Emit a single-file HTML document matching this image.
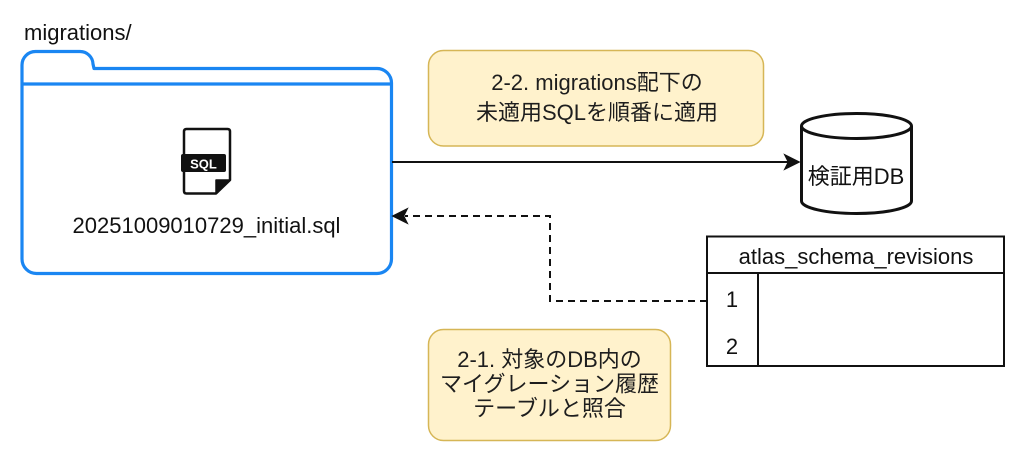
<!DOCTYPE html>
<html>
<head>
<meta charset="utf-8">
<style>
  html,body{margin:0;padding:0;background:#fff;}
  body{width:1024px;height:460px;overflow:hidden;}
  svg{display:block;}
  text{font-family:"Liberation Sans","Noto Sans CJK JP",sans-serif;}
</style>
</head>
<body>
<svg width="1024" height="460" viewBox="0 0 1024 460" xmlns="http://www.w3.org/2000/svg">
  <rect x="0" y="0" width="1024" height="460" fill="#ffffff"/>

  <!-- folder label -->
  <text x="24" y="40" font-size="22" fill="#111">migrations/</text>

  <!-- folder -->
  <path d="M22 65 A13.5 13.5 0 0 1 35.5 51.5 H80 A13 13 0 0 1 93 64 L94 68.5 H377 A14.5 14.5 0 0 1 391.5 83 V259 A14.5 14.5 0 0 1 377 273.5 H36.5 A14.5 14.5 0 0 1 22 259 Z"
        fill="#ffffff" stroke="#1a86f2" stroke-width="3.2" stroke-linejoin="round"/>
  <line x1="22" y1="84" x2="391.5" y2="84" stroke="#1a86f2" stroke-width="3.2"/>

  <!-- SQL file icon -->
  <path d="M186.5 129 H227.5 Q230 129 230 131.5 V180 L216 193.5 H186.5 Q184 193.5 184 191 V131.5 Q184 129 186.5 129 Z"
        fill="#ffffff" stroke="#111" stroke-width="2.5" stroke-linejoin="round"/>
  <path d="M216 180 H230 L216 193.5 Z" fill="#111" stroke="#111" stroke-width="1.5" stroke-linejoin="round"/>
  <rect x="181" y="154" width="45" height="18" rx="2" fill="#111"/>
  <text x="203.5" y="168.5" font-size="13" font-weight="bold" fill="#ffffff" text-anchor="middle">SQL</text>

  <text x="206.5" y="233" font-size="22" fill="#111" text-anchor="middle">20251009010729_initial.sql</text>

  <!-- top note -->
  <rect x="428.5" y="50.5" width="335" height="95.5" rx="15" ry="15" fill="#fff2cc" stroke="#d6b656" stroke-width="1.5"/>
  <text x="597" y="90" font-size="22" fill="#1e1e1e" text-anchor="middle">2-2. migrations配下の</text>
  <text x="597" y="120" font-size="22" fill="#1e1e1e" text-anchor="middle">未適用SQLを順番に適用</text>

  <!-- solid arrow -->
  <line x1="392" y1="162" x2="790" y2="162" stroke="#111" stroke-width="2"/>
  <path d="M799 162 L785 155 L788.5 162 L785 169 Z" fill="#111" stroke="#111" stroke-width="1.5" stroke-linejoin="miter"/>

  <!-- cylinder -->
  <path d="M801.5 126 V201 A55 12.5 0 0 0 911.5 201 V126"
        fill="#ffffff" stroke="#111" stroke-width="3"/>
  <ellipse cx="856.5" cy="126" rx="55" ry="12.5" fill="#ffffff" stroke="#111" stroke-width="3"/>
  <text x="856" y="184" font-size="22" fill="#111" text-anchor="middle">検証用DB</text>

  <!-- dashed connector -->
  <path d="M707 301 H550 V216 H405" fill="none" stroke="#111" stroke-width="2" stroke-dasharray="7 5"/>
  <path d="M393 216 L407 209 L403.5 216 L407 223 Z" fill="#111" stroke="#111" stroke-width="1.5"/>

  <!-- table -->
  <rect x="707" y="236.5" width="297" height="129.5" fill="#ffffff" stroke="#111" stroke-width="2"/>
  <line x1="707" y1="273" x2="1004" y2="273" stroke="#111" stroke-width="2"/>
  <line x1="758" y1="273" x2="758" y2="366" stroke="#111" stroke-width="2"/>
  <text x="856" y="264" font-size="22" fill="#111" text-anchor="middle">atlas_schema_revisions</text>
  <text x="732" y="307" font-size="22" fill="#111" text-anchor="middle">1</text>
  <text x="732" y="354" font-size="22" fill="#111" text-anchor="middle">2</text>

  <!-- bottom note -->
  <rect x="428.5" y="329.5" width="242" height="111" rx="15" ry="15" fill="#fff2cc" stroke="#d6b656" stroke-width="1.5"/>
  <text x="549.5" y="367" font-size="22" fill="#1e1e1e" text-anchor="middle">2-1. 対象のDB内の</text>
  <text x="549.5" y="391.5" font-size="22" fill="#1e1e1e" text-anchor="middle">マイグレーション履歴</text>
  <text x="549.5" y="416" font-size="22" fill="#1e1e1e" text-anchor="middle">テーブルと照合</text>
</svg>
</body>
</html>
